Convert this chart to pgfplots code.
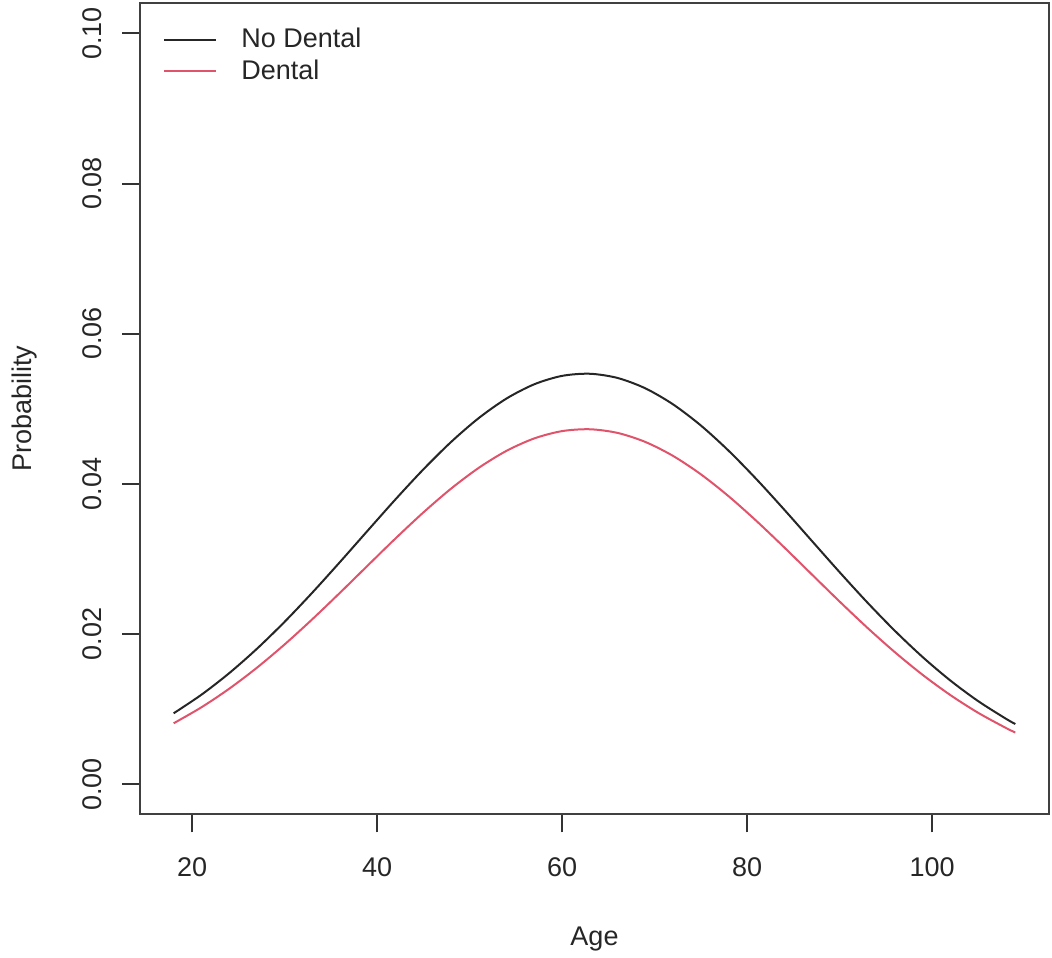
\documentclass[border=0pt]{standalone}
\usepackage{fontspec}
\setmainfont{Liberation Sans}
\usepackage{pgfplots}
\pgfplotsset{compat=1.18}
\definecolor{rred}{HTML}{DF536B}
\begin{document}
\fontsize{13.5}{16}\selectfont
\begin{tikzpicture}
\path[use as bounding box] (-70pt,-71.35pt) rectangle (456pt,407.15pt);
\begin{axis}[
  at={(0pt,0pt)}, anchor=south west,
  scale only axis, width=454.5pt, height=405.5pt,
  xmin=14.36, xmax=112.64, ymin=-0.004, ymax=0.104,
  xtick={20,40,60,80,100},
  ytick={0,0.02,0.04,0.06,0.08,0.1},
  tick pos=left, tick align=outside, major tick length=9pt,
  every tick/.style={black!80, line width=1pt},
  axis line style={black!75, line width=1pt},
  /pgf/number format/assume math mode=true,
  yticklabel={\pgfmathprintnumber[fixed,fixed zerofill,precision=2]{\tick}},
  xticklabel={\pgfmathprintnumber[fixed]{\tick}},
  yticklabel style={rotate=90, anchor=south, inner sep=0pt, text=black!85},
  xticklabel style={anchor=north, inner sep=0pt, text=black!85},
  yticklabel shift=10pt,
  xticklabel shift=12.5pt,
  xlabel={Age}, ylabel={Probability},
  xlabel style={at={(axis description cs:0.5,0)}, anchor=north, inner sep=0pt, yshift=-56pt, text=black!85},
  ylabel style={at={(axis description cs:0,0.5)}, anchor=south, inner sep=0pt, yshift=51pt, text=black!85},
  legend cell align=left,
  legend image code/.code={\draw[#1] (0pt,0pt) -- (26pt,0pt); \path (38.2pt,0pt);},
  legend style={at={(axis description cs:0,1)}, anchor=north west, xshift=11.5pt, yshift=-12.5pt,
    draw=none, fill=none, inner sep=0pt, outer sep=0pt, row sep=3.8pt,
    nodes={inner sep=0pt, text=black!85}},
]
\addplot[black!85, line width=1pt, smooth] coordinates {
(18,0.009452) (21,0.011923) (24,0.014791) (27,0.018041) (30,0.021641) (33,0.025531)
(36,0.029623) (39,0.033807) (42,0.037962) (45,0.041936) (48,0.045590) (51,0.048780)
(54,0.051377) (57,0.053272) (60,0.054385) (63,0.054666) (66,0.054104) (69,0.052724)
(72,0.050585) (75,0.047777) (78,0.044416) (81,0.040639) (84,0.036590) (87,0.032410)
(90,0.028244) (93,0.024207) (96,0.020406) (99,0.016916) (102,0.013791) (105,0.011055)
(108,0.008714) (109,0.008019)};
\addlegendentry{No Dental}
\addplot[rred, line width=1pt, smooth] coordinates {
(18,0.008122) (21,0.010249) (24,0.012719) (27,0.015520) (30,0.018627) (33,0.021988)
(36,0.025526) (39,0.029150) (42,0.032751) (45,0.036201) (48,0.039376) (51,0.042149)
(54,0.044411) (57,0.046061) (60,0.047030) (63,0.047275) (66,0.046786) (69,0.045583)
(72,0.043721) (75,0.041277) (78,0.038355) (81,0.035074) (84,0.031562) (87,0.027940)
(90,0.024334) (93,0.020843) (96,0.017561) (99,0.014550) (102,0.011858) (105,0.009502)
(108,0.007488) (109,0.006889)};
\addlegendentry{Dental}
\end{axis}
\end{tikzpicture}
\end{document}
